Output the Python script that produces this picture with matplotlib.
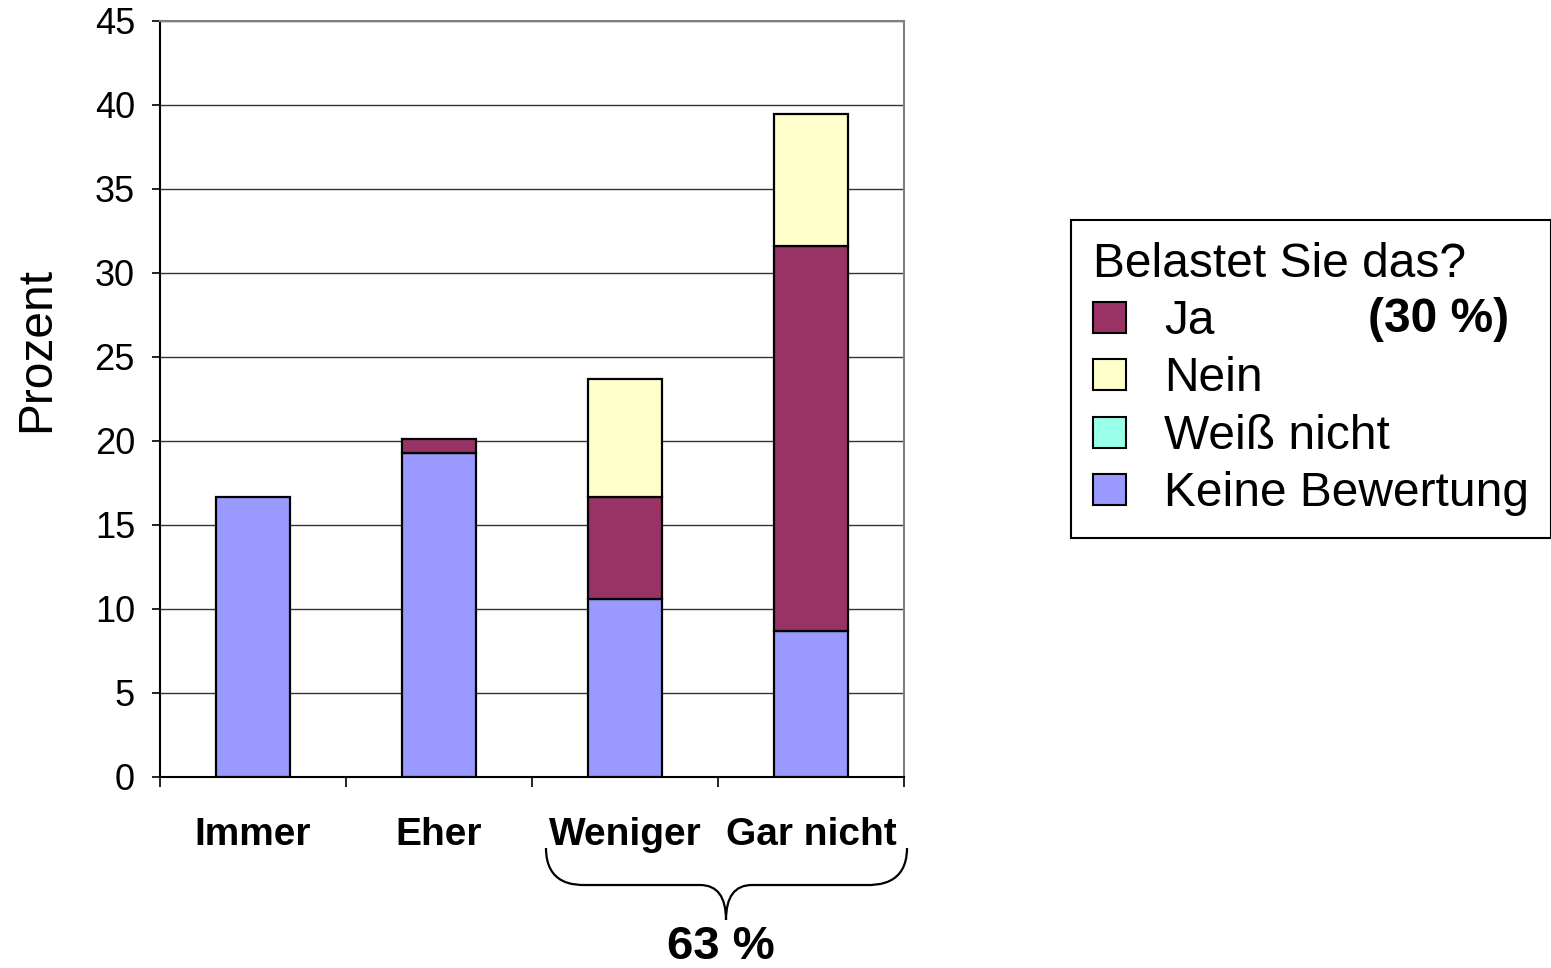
import matplotlib
matplotlib.use("Agg")
import matplotlib.pyplot as plt
import numpy as np
from matplotlib.patches import PathPatch, Patch
from matplotlib.path import Path

plt.rcParams.update({"font.family": ["Liberation Sans", "DejaVu Sans"]})

# --- data (Prozent) ------------------------------------------------------------
categories = ["Immer", "Eher", "Weniger", "Gar nicht"]
keine_bewertung = [16.67, 19.27, 10.58, 8.69]
weiss_nicht = [0.0, 0.0, 0.0, 0.0]
ja = [0.0, 0.83, 6.07, 22.94]
nein = [0.0, 0.0, 7.02, 7.83]
yticks = list(range(0, 50, 5))

C = {"Ja": "#993366", "Nein": "#FFFFCC", "Weiß nicht": "#99FFE8", "Keine Bewertung": "#9999FF"}

W, H = 1551, 968
fig = plt.figure(figsize=(W / 100, H / 100), dpi=100)
ax = fig.add_axes([160 / W, 1 - 777 / H, (904 - 160) / W, (777 - 21) / H])

x = np.arange(len(categories))
bw = 0.4
kw = dict(width=bw, edgecolor="black", linewidth=1.6, zorder=3)
bottom = np.zeros(len(categories))
for name, vals in [("Keine Bewertung", keine_bewertung), ("Weiß nicht", weiss_nicht),
                   ("Ja", ja), ("Nein", nein)]:
    v = np.array(vals)
    mask = v > 0
    ax.bar(x[mask], v[mask], bottom=bottom[mask], color=C[name], **kw)
    bottom += v

ax.set_xlim(-0.5, len(categories) - 0.5)
ax.set_ylim(0, 45)
ax.set_yticks(yticks)
ax.tick_params(axis="y", labelsize=26, length=6, width=1.2, pad=12, direction="out")
ax.yaxis.grid(True, color="#333333", linewidth=1.0, zorder=0)
ax.set_axisbelow(True)

# category boundaries as major ticks, labels on minor ticks at centres
ax.set_xticks(np.arange(-0.5, len(categories), 1.0))
ax.set_xticklabels([])
ax.tick_params(axis="x", which="major", length=7, width=1.2, direction="out")
ax.set_xticks(x, minor=True)
ax.set_xticklabels(categories, minor=True, fontsize=28, fontweight="bold")
ax.tick_params(axis="x", which="minor", length=0, pad=29)

for s in ("top", "right"):
    ax.spines[s].set_color("#808080")
    ax.spines[s].set_linewidth(1.5)
for s in ("left", "bottom"):
    ax.spines[s].set_color("black")
    ax.spines[s].set_linewidth(1.5)

ax.set_ylabel("Prozent", fontsize=34.5, va="center", ha="center")
ax.yaxis.set_label_coords(-0.166, 0.566)

# brace under "Weniger" and "Gar nicht"
def fp(px, py):
    return (px / W, 1 - py / H)

verts = [fp(546, 848), fp(546, 885), fp(575, 885), fp(585, 885),
         fp(700, 885), fp(726, 885), fp(726, 920),
         fp(726, 885), fp(752, 885), fp(867, 885),
         fp(877, 885), fp(907, 885), fp(907, 848)]
codes = [Path.MOVETO, Path.CURVE4, Path.CURVE4, Path.CURVE4,
         Path.LINETO, Path.CURVE3, Path.CURVE3,
         Path.CURVE3, Path.CURVE3, Path.LINETO,
         Path.CURVE4, Path.CURVE4, Path.CURVE4]
fig.patches.append(PathPatch(Path(verts, codes), transform=fig.transFigure,
                             facecolor="none", edgecolor="black", linewidth=1.6))
fig.text(721 / W, 1 - 947 / H, "63 %", ha="center", va="center",
         fontsize=34, fontweight="bold")

# legend
handles = [Patch(facecolor=C[n], edgecolor="black", linewidth=1.5)
           for n in ["Ja", "Nein", "Weiß nicht", "Keine Bewertung"]]
leg = fig.legend(handles, ["Ja", "Nein", "Weiß nicht", "Keine Bewertung"],
                 title="Belastet Sie das?", loc="upper left",
                 bbox_to_anchor=(1071 / W, 1 - 220 / H), borderaxespad=0,
                 fontsize=34.5, title_fontsize=34.5, alignment="left",
                 handlelength=0.7, handleheight=0.62, handletextpad=0.8,
                 labelspacing=0.26, borderpad=0.45, fancybox=False, framealpha=1)
leg.get_frame().set_edgecolor("black")
leg.get_frame().set_linewidth(1.5)
leg.set_zorder(4)
fig.text(1368 / W, 1 - 320 / H, "(30 %)", ha="left", va="center",
         fontsize=34.5, fontweight="bold", zorder=10)

fig.savefig("out.png", dpi=100)
